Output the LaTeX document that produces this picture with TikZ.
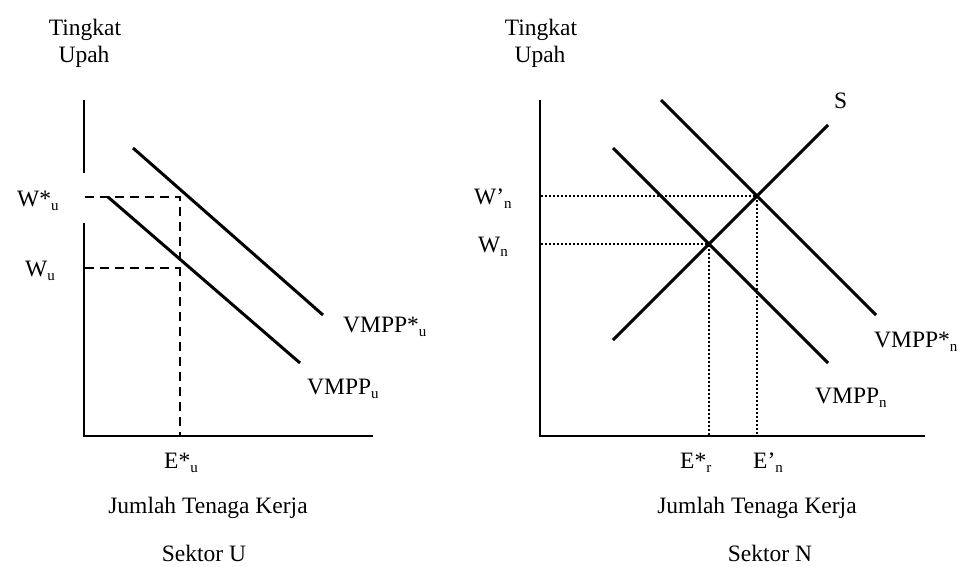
\documentclass[tikz,border=0pt]{standalone}
\usepackage{fontspec}
\setmainfont{Liberation Serif}
\newcommand\lsub[1]{\raisebox{-4pt}{\fontsize{15}{15}\selectfont #1}}
\begin{document}
\begin{tikzpicture}[x=1pt,y=-1pt,
  lbl/.style={inner sep=0pt,font=\fontsize{23.5}{27}\selectfont},
  axisline/.style={line width=2pt},
  curve/.style={line width=3pt},
  dashline/.style={line width=2pt,dash pattern=on 9pt off 6pt},
  dotline/.style={line width=2pt,dash pattern=on 2pt off 2pt}]
\useasboundingbox (0,0) rectangle (960,566);
% ---------- Left panel: Sektor U ----------
\coordinate (oU) at (84.3,435.7);
\coordinate (yU) at (84.3,100);
\coordinate (xU) at (373,435.7);
\coordinate (gapA) at (84.3,173);
\coordinate (gapB) at (84.3,223);
\draw[axisline] (yU) -- (gapA);
\draw[axisline] (gapB) -- (oU) -- (xU);
\coordinate (a1) at (133,148);
\coordinate (a2) at (323,315);
\coordinate (b1) at (108,197);
\coordinate (b2) at (300,363);
\draw[curve] (a1) -- (a2);
\draw[curve] (b1) -- (b2);
\coordinate (wsU) at (85,196.7);
\coordinate (wU) at (85,267.7);
\coordinate (pU) at (180,196.7);
\coordinate (qU) at (180,267.7);
\coordinate (eU) at (180,435);
\draw[dashline] (wsU) -- (pU) -- (eU);
\draw[dashline] (wU) -- (qU);
\node[lbl,anchor=base] (tU1) at (85,35) {Tingkat};
\node[lbl,anchor=base] (tU2) at (84,62) {Upah};
\node[lbl,anchor=base west] (lwsU) at (17,206) {W*\lsub{u}};
\node[lbl,anchor=base west] (lwU) at (25,276) {W\lsub{u}};
\node[lbl,anchor=base west] (lvsU) at (343,332) {VMPP*\lsub{u}};
\node[lbl,anchor=base west] (lvU) at (307,394) {VMPP\lsub{u}};
\node[lbl,anchor=base west] (leU) at (164,468) {E*\lsub{u}};
\node[lbl,anchor=base] (jU) at (208,513) {Jumlah Tenaga Kerja};
\node[lbl,anchor=base] (sU) at (204,561) {Sektor U};
% ---------- Right panel: Sektor N ----------
\coordinate (oN) at (540.3,435.7);
\coordinate (yN) at (540.3,100);
\coordinate (xN) at (925,435.7);
\draw[axisline] (yN) -- (oN) -- (xN);
\coordinate (c1) at (661,100);
\coordinate (c2) at (876,315);
\coordinate (d1) at (613,148);
\coordinate (d2) at (828,363);
\coordinate (s1) at (613,340);
\coordinate (s2) at (828,125);
\draw[curve] (c1) -- (c2);
\draw[curve] (d1) -- (d2);
\draw[curve] (s1) -- (s2);
\coordinate (wpN) at (541,196);
\coordinate (wN) at (541,244.3);
\coordinate (pN) at (757,196);
\coordinate (qN) at (708.7,244.3);
\coordinate (ePN) at (757,435);
\coordinate (eSN) at (708.7,435);
\draw[dotline] (wpN) -- (pN) -- (ePN);
\draw[dotline] (wN) -- (qN) -- (eSN);
\node[lbl,anchor=base] (tN1) at (541,35) {Tingkat};
\node[lbl,anchor=base] (tN2) at (540,62) {Upah};
\node[lbl,anchor=base west] (lwpN) at (474,204) {W'\lsub{n}};
\node[lbl,anchor=base west] (lwN) at (478,252) {W\lsub{n}};
\node[lbl,anchor=base west] (lS) at (834,108) {S};
\node[lbl,anchor=base west] (lvsN) at (874,347) {VMPP*\lsub{n}};
\node[lbl,anchor=base west] (lvN) at (815,403) {VMPP\lsub{n}};
\node[lbl,anchor=base west] (leSN) at (680,468) {E*\lsub{r}};
\node[lbl,anchor=base west] (lePN) at (753,468) {E'\lsub{n}};
\node[lbl,anchor=base] (jN) at (757,513) {Jumlah Tenaga Kerja};
\node[lbl,anchor=base] (sN) at (770,561) {Sektor N};
\end{tikzpicture}
\end{document}
